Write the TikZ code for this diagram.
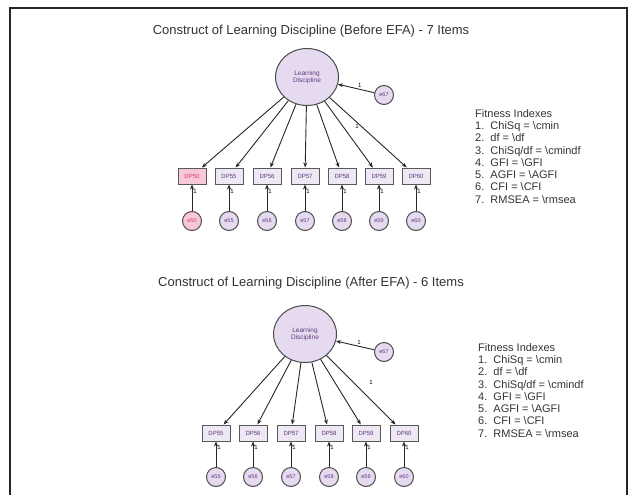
\documentclass[tikz,border=0pt]{standalone}
\usepackage{fontspec}
\setmainfont{Liberation Sans}
\usetikzlibrary{shapes.geometric,arrows.meta}

\definecolor{lavender}{HTML}{E6DAF0}
\definecolor{boxfill}{HTML}{EEE7F4}
\definecolor{purpletext}{HTML}{5E3A7E}
\definecolor{pinkfill}{HTML}{F8C8D8}
\definecolor{pinktext}{HTML}{D83A6E}

\begin{document}
\begin{tikzpicture}
    [x=1pt, y=-1pt, >={Stealth[length=5pt,width=4pt]}, node distance=45pt,
     latentvar/.style={ellipse, draw=black!70, line width=1pt, fill=lavender,
       minimum width=63pt, minimum height=57pt, inner sep=0pt, align=center,
       text=purpletext, font=\fontsize{6.5}{7}\selectfont},
     obsbox/.style={rectangle, draw=black!65, line width=1pt, fill=boxfill,
       minimum width=28pt, minimum height=16pt, inner sep=0pt,
       text=purpletext, font=\fontsize{6}{6}\selectfont},
     errcirc/.style={circle, draw=black!70, line width=1pt, fill=lavender,
       minimum size=19pt, inner sep=0pt, text=purpletext,
       font=\fontsize{5.5}{6}\selectfont},
     heading/.style={font=\fontsize{13}{15}\selectfont, text=black!80},
     fitlist/.style={anchor=north west, align=left, inner sep=0pt,
       font=\fontsize{11}{12.3}\selectfont, text=black!80},
     one/.style={font=\fontsize{6}{6}\selectfont, inner sep=1pt},
     link/.style={draw=black!85, line width=0.9pt}]

  \useasboundingbox (0,0) rectangle (636,495);
  \draw[line width=1.2pt, black!85] (10,495) -- (10,8) -- (627,8) -- (627,495);

  % before EFA
  \node[heading] (T1) at (311,31) {Construct of Learning Discipline (Before EFA) - 7 Items};
  \node[latentvar] (L1) at (307,77) {Learning\\Discipline};
  \node[errcirc] (D1) at (384,95) {e67};
  \draw[link, ->] (D1) -- node[one, above, pos=0.4] {1} (L1);

  \node[obsbox, fill=pinkfill, text=pinktext] (B50) at (192,176) {DP50};
  \node[errcirc, fill=pinkfill, text=pinktext] (EB50) [below of=B50] {e50};
  \draw[link, ->] (L1) -- (B50);
  \draw[link, ->] (EB50) -- node[one, right, pos=0.75] {1} (B50);
  \foreach \n/\x in {55/229,56/267,57/305,58/342,59/379,60/416}{
    \node[obsbox] (B\n) at (\x,176) {DP\n};
    \node[errcirc] (EB\n) [below of=B\n] {e\n};
    \draw[link, ->] (L1) -- (B\n);
    \draw[link, ->] (EB\n) -- node[one, right, pos=0.75] {1} (B\n);
  }
  \node[one] (F1) at (357,126) {1};

  \node[fitlist] (G1) at (475,109) {Fitness Indexes\\
    1.\ \ ChiSq = \textbackslash cmin\\
    2.\ \ df = \textbackslash df\\
    3.\ \ ChiSq/df = \textbackslash cmindf\\
    4.\ \ GFI = \textbackslash GFI\\
    5.\ \ AGFI = \textbackslash AGFI\\
    6.\ \ CFI = \textbackslash CFI\\
    7.\ \ RMSEA = \textbackslash rmsea};

  % after EFA
  \node[heading] (T2) at (311,283) {Construct of Learning Discipline (After EFA) - 6 Items};
  \node[latentvar] (L2) at (305,334) {Learning\\Discipline};
  \node[errcirc] (D2) at (384,352) {e67};
  \draw[link, ->] (D2) -- node[one, above, pos=0.4] {1} (L2);

  \foreach \n/\x in {55/216,56/253,57/291,58/329,59/366,60/404}{
    \node[obsbox] (A\n) at (\x,433) {DP\n};
    \node[errcirc] (EA\n) [below of=A\n, node distance=44pt] {e\n};
    \draw[link, ->] (L2) -- (A\n);
    \draw[link, ->] (EA\n) -- node[one, right, pos=0.75] {1} (A\n);
  }
  \node[one] (F2) at (371,382) {1};

  \node[fitlist] (G2) at (478,343) {Fitness Indexes\\
    1.\ \ ChiSq = \textbackslash cmin\\
    2.\ \ df = \textbackslash df\\
    3.\ \ ChiSq/df = \textbackslash cmindf\\
    4.\ \ GFI = \textbackslash GFI\\
    5.\ \ AGFI = \textbackslash AGFI\\
    6.\ \ CFI = \textbackslash CFI\\
    7.\ \ RMSEA = \textbackslash rmsea};
\end{tikzpicture}
\end{document}
